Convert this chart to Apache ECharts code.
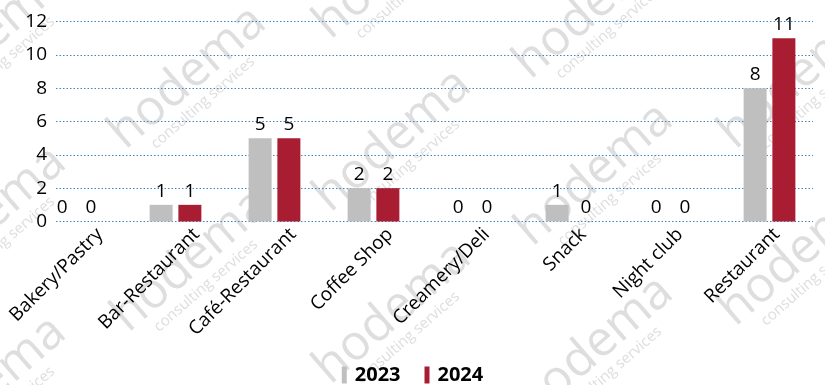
<!DOCTYPE html>
<html>
<head>
<meta charset="utf-8">
<script src="https://cdn.jsdelivr.net/npm/echarts@6/dist/echarts.min.js"></script>
<style>
  html, body { margin: 0; padding: 0; background: #ffffff; }
  #chart { width: 825px; height: 385px; }
</style>
</head>
<body>
<div id="chart"></div>
<script>
// Establishments by type, counts per year
const categories = ['Bakery/Pastry', 'Bar-Restaurant', 'Café-Restaurant', 'Coffee Shop',
                    'Creamery/Deli', 'Snack', 'Night club', 'Restaurant'];
const values2023 = [0, 1, 5, 2, 0, 1, 0, 8];
const values2024 = [0, 1, 5, 2, 0, 0, 0, 11];
const seriesNames = ['2023', '2024'];
const yTicks = [0, 2, 4, 6, 8, 10, 12];

const FONT = 'Open Sans';
const GRAY = '#bfbfbf';
const RED = '#a91d32';

const chart = echarts.init(document.getElementById('chart'), null, { renderer: 'canvas' });

// Shared vertical extent of the plotting area
const TOP = 21.5, BOTTOM = 163.5;

// Faint diagonal company watermark, repeated across the canvas
const markOrigins = [
  [-75, 110], [-75, 290], [-75, 460],
  [125, 150], [128, 333],
  [330, 40], [330, 213], [330, 385],
  [530, 80], [532, 247], [532, 420],
  [735, 150], [735, 327]
];
const WM = 'rgba(190,190,190,0.5)';
const watermark = markOrigins.map(([x, y]) => ({
  type: 'group', x: x, y: y, rotation: 41 * Math.PI / 180, z: 100, silent: true,
  children: [
    { type: 'text', style: { text: 'hodema', x: 0, y: 11, fill: WM,
      font: '400 49px "Open Sans"', verticalAlign: 'bottom' } },
    { type: 'text', style: { text: 'consulting services', x: 24, y: 8, fill: WM,
      font: '400 15px "Open Sans"', verticalAlign: 'top' } }
  ]
}));

const option = {
  backgroundColor: '#ffffff',
  animation: false,
  textStyle: { fontFamily: FONT },
  grid: [
    // gridlines + value labels
    { left: 56, right: 12, top: TOP, bottom: BOTTOM },
    // bars
    { left: 27, width: 792, top: TOP, bottom: BOTTOM },
    // category labels
    { left: 51.5, width: 792, top: TOP, bottom: BOTTOM }
  ],
  legend: {
    data: seriesNames,
    left: 'center',
    top: 360,
    itemWidth: 5,
    itemHeight: 17,
    itemGap: 24,
    icon: 'rect',
    textStyle: { fontFamily: FONT, fontSize: 20, fontWeight: 'bold', color: '#000', padding: [0, 0, 0, 3] }
  },
  xAxis: [
    { gridIndex: 0, type: 'category', data: categories, show: false },
    { gridIndex: 1, type: 'category', data: categories,
      axisLine: { show: false }, axisTick: { show: false }, axisLabel: { show: false } },
    { gridIndex: 2, type: 'category', data: categories,
      axisLine: { show: false }, axisTick: { show: false },
      axisLabel: { interval: 0, rotate: 45, margin: 10, color: '#000', fontFamily: FONT, fontSize: 19 } }
  ],
  yAxis: [
    { gridIndex: 0, type: 'value', min: yTicks[0], max: yTicks[yTicks.length - 1], interval: 2,
      axisLine: { show: false }, axisTick: { show: false },
      axisLabel: { margin: 9, color: '#000', fontFamily: FONT, fontSize: 19 },
      splitLine: { show: true, lineStyle: { color: '#3d86c6', type: [1.5, 2], width: 1 } } },
    { gridIndex: 1, type: 'value', min: yTicks[0], max: yTicks[yTicks.length - 1], show: false },
    { gridIndex: 2, type: 'value', min: yTicks[0], max: yTicks[yTicks.length - 1], show: false }
  ],
  series: [
    { name: seriesNames[0], type: 'bar', xAxisIndex: 1, yAxisIndex: 1, data: values2023,
      barWidth: 23, barGap: '25%', itemStyle: { color: GRAY },
      label: { show: true, position: 'top', distance: 4, color: '#000', fontFamily: FONT, fontSize: 19 } },
    { name: seriesNames[1], type: 'bar', xAxisIndex: 1, yAxisIndex: 1, data: values2024,
      barWidth: 23, barGap: '25%', itemStyle: { color: RED },
      label: { show: true, position: 'top', distance: 4, color: '#000', fontFamily: FONT, fontSize: 19 } }
  ],
  graphic: watermark
};

chart.setOption(option);
</script>
</body>
</html>
